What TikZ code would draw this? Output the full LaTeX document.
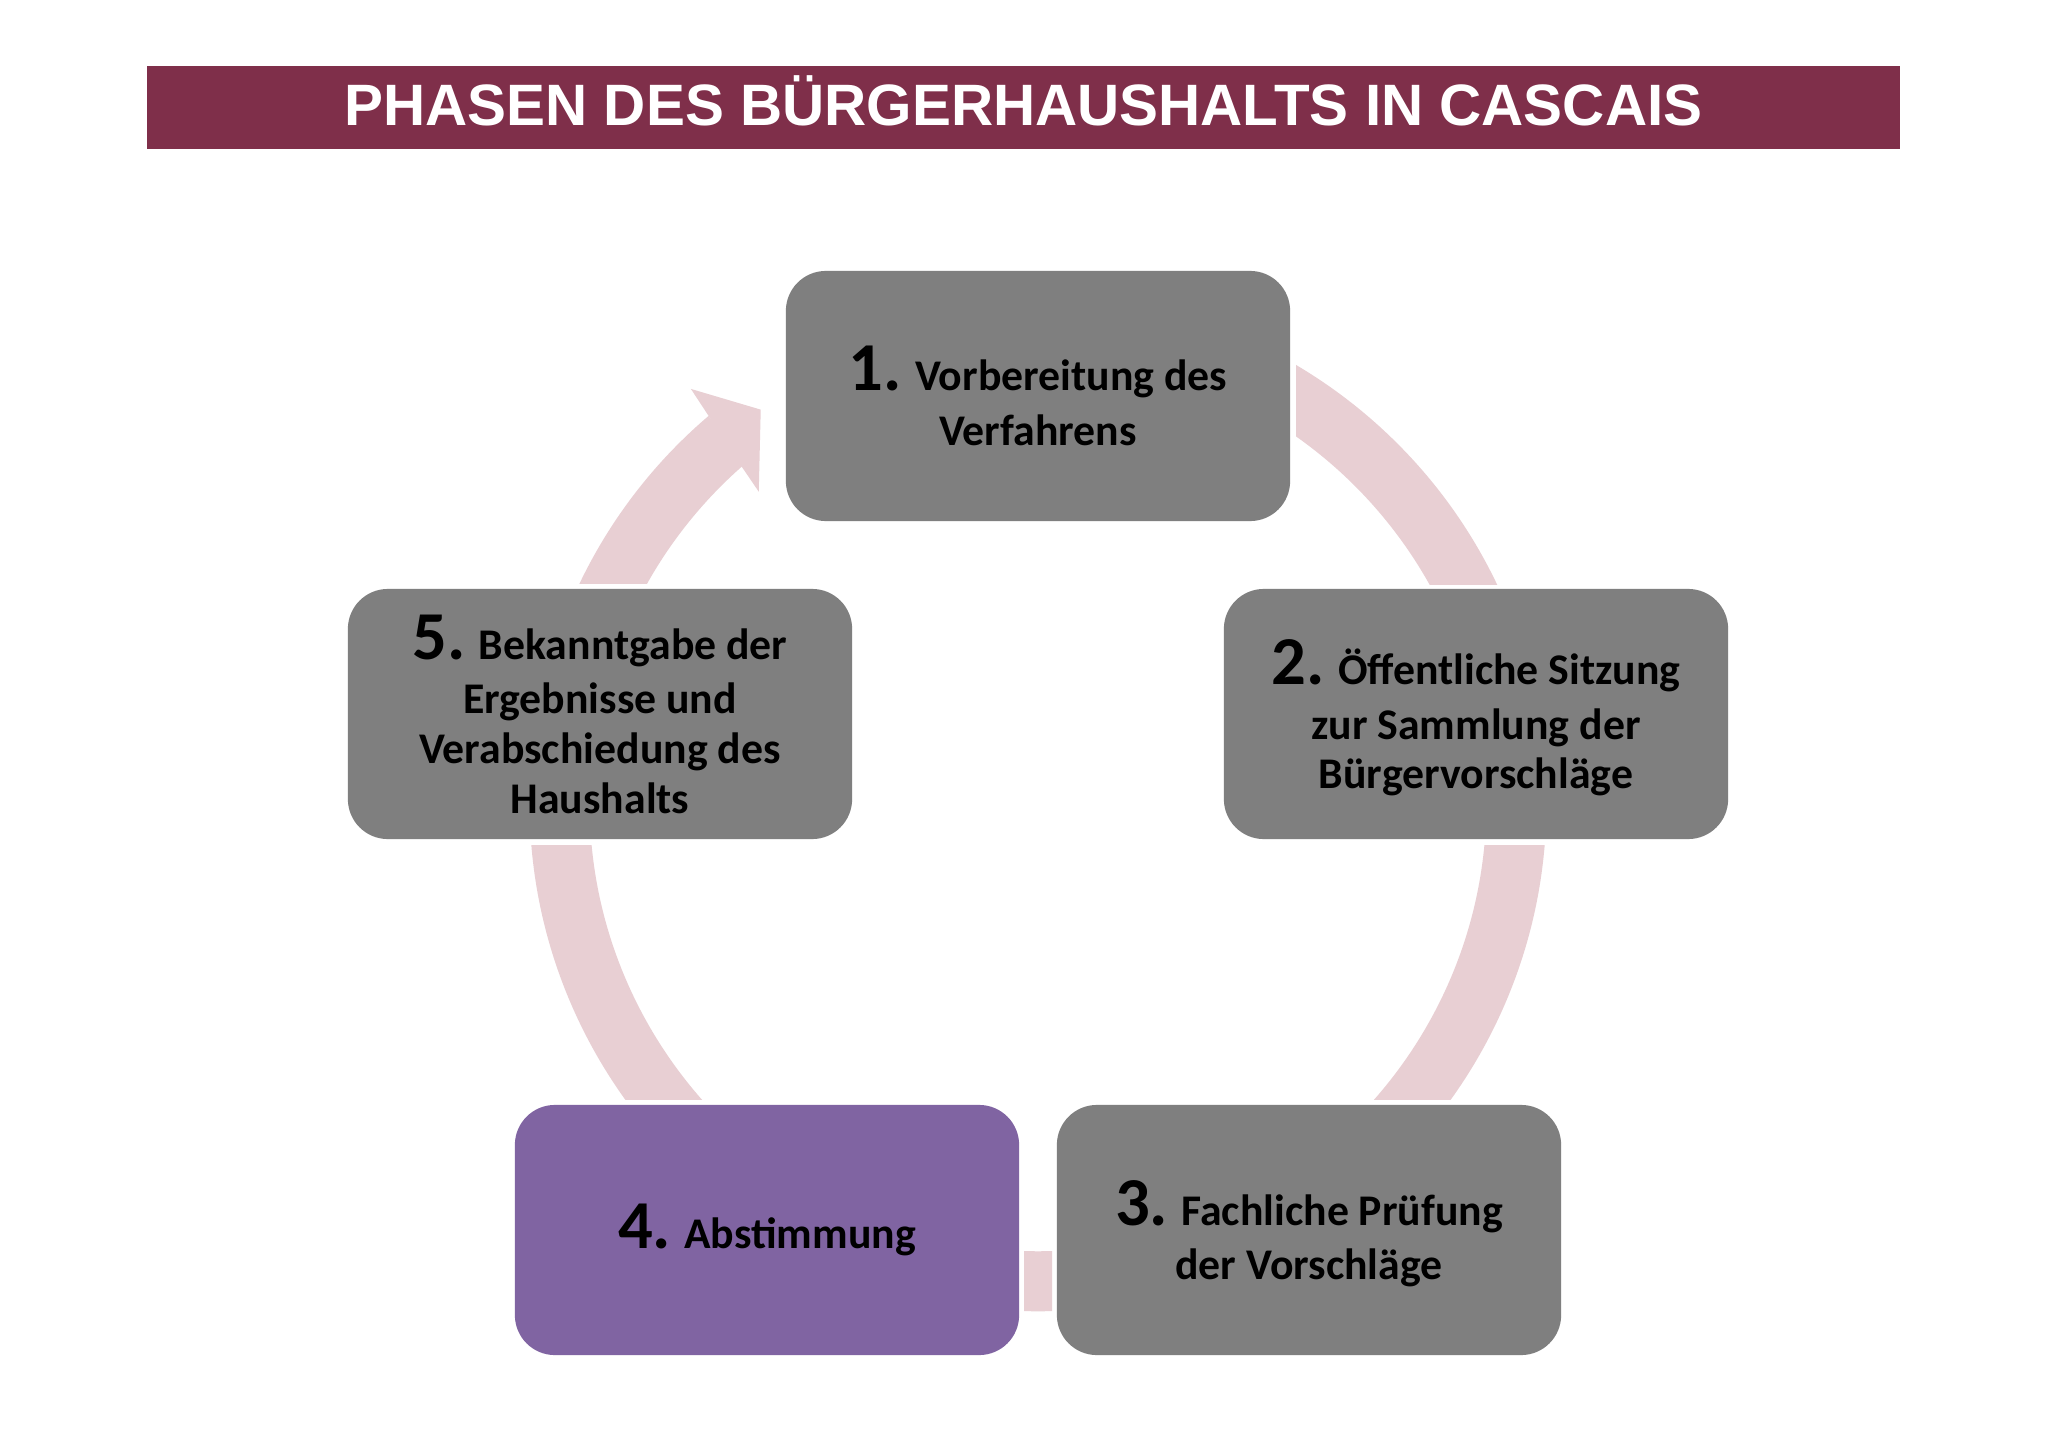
\documentclass[tikz,border=0pt]{standalone}
\usepackage{fontspec}
\setmainfont{Carlito}
\newfontfamily\headfont{Liberation Sans}
\usetikzlibrary{calc}

\definecolor{barred}{RGB}{127,47,74}
\definecolor{boxgray}{RGB}{127,127,127}
\definecolor{votepurple}{RGB}{128,100,162}
\definecolor{ringpink}{RGB}{232,207,211}

\newcommand\pnum[1]{{\fontsize{19.5}{19.5}\selectfont #1}}

\begin{document}
\begin{tikzpicture}[
    x=0.01cm, y=0.01cm,
    titlebar/.style={rectangle, fill=barred, minimum width=17.51cm, minimum height=0.83cm, inner sep=0pt, text=white, text height=10.5pt, text depth=0pt, font=\headfont\bfseries\fontsize{16.6}{19}\selectfont},
    phase/.style={rectangle, rounded corners=0.4cm, fill=boxgray, minimum width=5.04cm, minimum height=2.5cm, inner sep=0pt, text centered, align=center, font=\fontsize{12.45}{14.1}\selectfont\bfseries},
    ring/.style={draw=ringpink, line width=0.6cm},
    head/.style={fill=ringpink}
]
\fill[white] (0,0) rectangle (2048,1447);
\useasboundingbox (0,0) rectangle (2048,1447);

% Title
\node[titlebar] (title) at (1023.5,1339.5) {PHASEN DES BÜRGERHAUSHALTS IN CASCAIS};

% Cycle ring
\coordinate (C) at (1038,644);
\begin{scope} % 1 -> 2
  \clip (1296,863) rectangle (2048,1447);
  \draw[ring] (C) ++(90:4.78cm) arc[start angle=90, end angle=0, radius=4.78cm];
\end{scope}
\begin{scope} % 2 -> 3
  \clip (1038,348) rectangle (2048,602);
  \draw[ring] (C) ++(10:4.78cm) arc[start angle=10, end angle=-80, radius=4.78cm];
\end{scope}
\begin{scope} % 3 -> 4
  \clip (1024,0) rectangle (1052,644);
  \draw[ring] (C) ++(-60:4.78cm) arc[start angle=-60, end angle=-120, radius=4.78cm];
\end{scope}
\begin{scope} % 4 -> 5
  \clip (0,348) rectangle (1038,602);
  \draw[ring] (C) ++(-100:4.78cm) arc[start angle=-100, end angle=-190, radius=4.78cm];
\end{scope}
\begin{scope} % 5 -> 1 with head
  \clip (0,864) rectangle (1038,1447);
  \draw[ring] (C) ++(170:4.78cm) arc[start angle=170, end angle=130.4, radius=4.78cm];
  \fill[head] ($(C)+(129.97:5.40cm)$) -- ($(C)+(125.18:4.81cm)$) -- ($(C)+(131.89:4.18cm)$)
    -- ($(C)+(131.36:4.49cm)$) -- ($(C)+(130.38:5.09cm)$) -- cycle;
\end{scope}

% Phases
\node[phase] (p1) at (1038,1051) {\pnum{1.} Vorbereitung des\\[1.5pt] Verfahrens};
\node[phase, text depth=0pt] (p2) at (1476,733) {\pnum{2.} Öffentliche Sitzung\\[1.5pt] zur Sammlung der\\ Bürgervorschläge};
\node[phase, text depth=0pt] (p3) at (1309,217) {\pnum{3.} Fachliche Prüfung\\[1.5pt] der Vorschläge};
\node[phase, fill=votepurple] (p4) at (767,217) {\pnum{4.} Abstimmung};
\node[phase] (p5) at (600,733) {\pnum{5.} Bekanntgabe der\\[1.5pt] Ergebnisse und\\ Verabschiedung des\\ Haushalts};

\end{tikzpicture}
\end{document}
